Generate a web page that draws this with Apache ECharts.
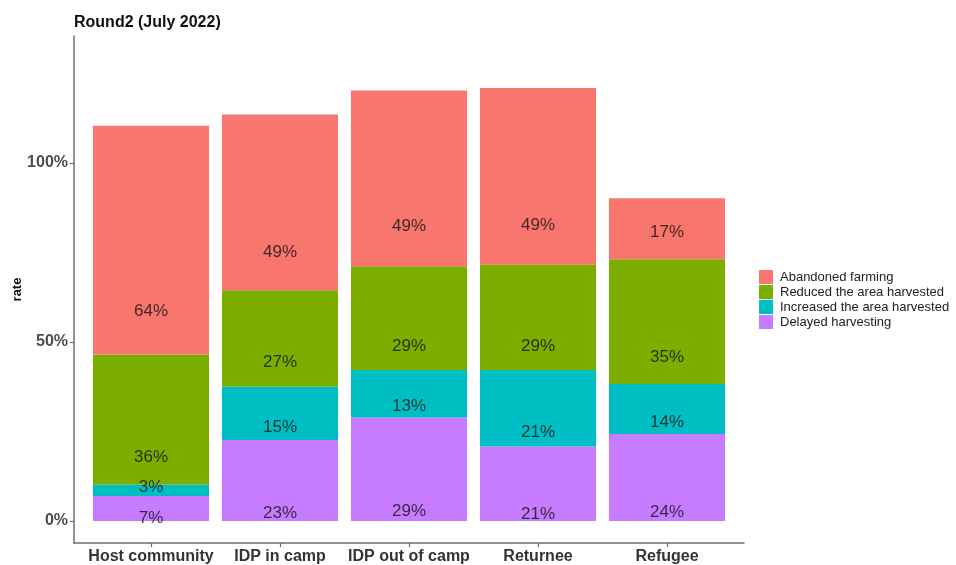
<!DOCTYPE html>
<html>
<head>
<meta charset="utf-8">
<script src="https://cdn.jsdelivr.net/npm/echarts@6/dist/echarts.min.js"></script>
<style>
  html, body { margin: 0; padding: 0; background: #fff; }
  #chart { width: 956px; height: 565px; }
</style>
</head>
<body>
<div id="chart"></div>
<script>
var categories = ['Host community', 'IDP in camp', 'IDP out of camp', 'Returnee', 'Refugee'];

// stacked from the bottom up
var delayed   = [7.0, 22.6, 28.9, 20.8, 24.3];
var increased = [3.1, 14.9, 13.3, 21.4, 14.0];
var reduced   = [36.4, 27.0, 29.0, 29.4, 34.8];
var abandoned = [63.9, 49.1, 49.1, 49.4, 17.1];

// where the percentage text sits (rate units), as in the original
var delayedLabelY   = [0.8, 2.1, 2.6, 1.9, 2.3];
var increasedLabelY = [9.3, 26.2, 32.1, 24.8, 27.7];
var reducedLabelY   = [17.7, 44.2, 48.9, 48.9, 45.6];
var abandonedLabelY = [58.7, 75.2, 82.2, 82.7, 80.6];

var yTicks = [0, 50, 100];
var yMin = -6.15, yMax = 135.5;

var colors = {
  'Abandoned farming': '#F8766D',
  'Reduced the area harvested': '#7CAE00',
  'Increased the area harvested': '#00BFC4',
  'Delayed harvesting': '#C77CFF'
};

function barSeries(name, values) {
  return {
    name: name,
    type: 'bar',
    stack: 'total',
    xAxisIndex: 1,
    yAxisIndex: 1,
    barCategoryGap: '10%',
    itemStyle: { color: colors[name] },
    data: values
  };
}

function labelSeries(values, positions) {
  return {
    type: 'scatter',
    xAxisIndex: 1,
    yAxisIndex: 1,
    symbolSize: 0,
    silent: true,
    z: 5,
    label: {
      show: true,
      position: 'inside',
      color: '#111',
      fontSize: 17,
      fontFamily: 'Liberation Sans, Arial, sans-serif',
      formatter: function (p) { return Math.round(values[p.dataIndex]) + '%'; }
    },
    data: positions.map(function (y, i) { return [i, y]; })
  };
}

var chart = echarts.init(document.getElementById('chart'), null, { renderer: 'canvas' });

var option = {
  backgroundColor: '#ffffff',
  animation: false,
  textStyle: { fontFamily: 'Liberation Sans, Arial, sans-serif' },
  title: {
    text: 'Round2 (July 2022)',
    left: 74,
    top: 15,
    padding: 0,
    textStyle: { fontSize: 16, fontWeight: 'bold', color: '#111' }
  },
  legend: {
    orient: 'vertical',
    left: 759,
    top: 270,
    padding: 0,
    itemWidth: 14,
    itemHeight: 14,
    itemGap: 1,
    icon: 'rect',
    data: ['Abandoned farming', 'Reduced the area harvested', 'Increased the area harvested', 'Delayed harvesting'],
    textStyle: { fontSize: 13, color: '#222', padding: [0, 0, 0, 2] }
  },
  grid: [
    { left: 74, right: 212, top: 36, bottom: 22, outerBoundsMode: 'none' },
    { left: 86.5, right: 224.5, top: 36, bottom: 22, outerBoundsMode: 'none' }
  ],
  xAxis: [
    {
      gridIndex: 0,
      type: 'value',
      min: 0,
      max: 1,
      axisLine: { show: true, onZero: false, lineStyle: { color: '#6e6e6e', width: 1.5 } },
      axisTick: { show: false },
      axisLabel: { show: false },
      splitLine: { show: false }
    },
    {
      gridIndex: 1,
      type: 'category',
      data: categories,
      axisLine: { show: false, onZero: false },
      axisTick: { show: true, alignWithLabel: true, length: 4, lineStyle: { color: '#6e6e6e', width: 1.2 } },
      axisLabel: { margin: 6, fontSize: 16, fontWeight: 'bold', color: '#333', interval: 0 },
      splitLine: { show: false }
    }
  ],
  yAxis: [
    {
      gridIndex: 0,
      type: 'value',
      min: yMin,
      max: yMax,
      name: 'rate',
      nameLocation: 'middle',
      nameRotate: 90,
      nameGap: 50,
      nameMoveOverlap: false,
      nameTextStyle: { fontSize: 13, fontWeight: 'bold', color: '#111' },
      axisLine: { show: true, onZero: false, lineStyle: { color: '#6e6e6e', width: 1.5 } },
      axisTick: { show: true, length: 4, customValues: yTicks, lineStyle: { color: '#6e6e6e', width: 1.2 } },
      axisLabel: {
        customValues: yTicks,
        margin: 6,
        fontSize: 16,
        fontWeight: 'bold',
        color: '#4d4d4d',
        formatter: function (v) { return v + '%'; }
      },
      splitLine: { show: false }
    },
    {
      gridIndex: 1,
      type: 'value',
      min: yMin,
      max: yMax,
      show: false,
      axisLine: { onZero: false }
    }
  ],
  series: [
    barSeries('Delayed harvesting', delayed),
    barSeries('Increased the area harvested', increased),
    barSeries('Reduced the area harvested', reduced),
    barSeries('Abandoned farming', abandoned),
    labelSeries(delayed, delayedLabelY),
    labelSeries(increased, increasedLabelY),
    labelSeries(reduced, reducedLabelY),
    labelSeries(abandoned, abandonedLabelY)
  ]
};

chart.setOption(option);
window.addEventListener('resize', function () {
  chart.resize();
});
</script>
</body>
</html>
